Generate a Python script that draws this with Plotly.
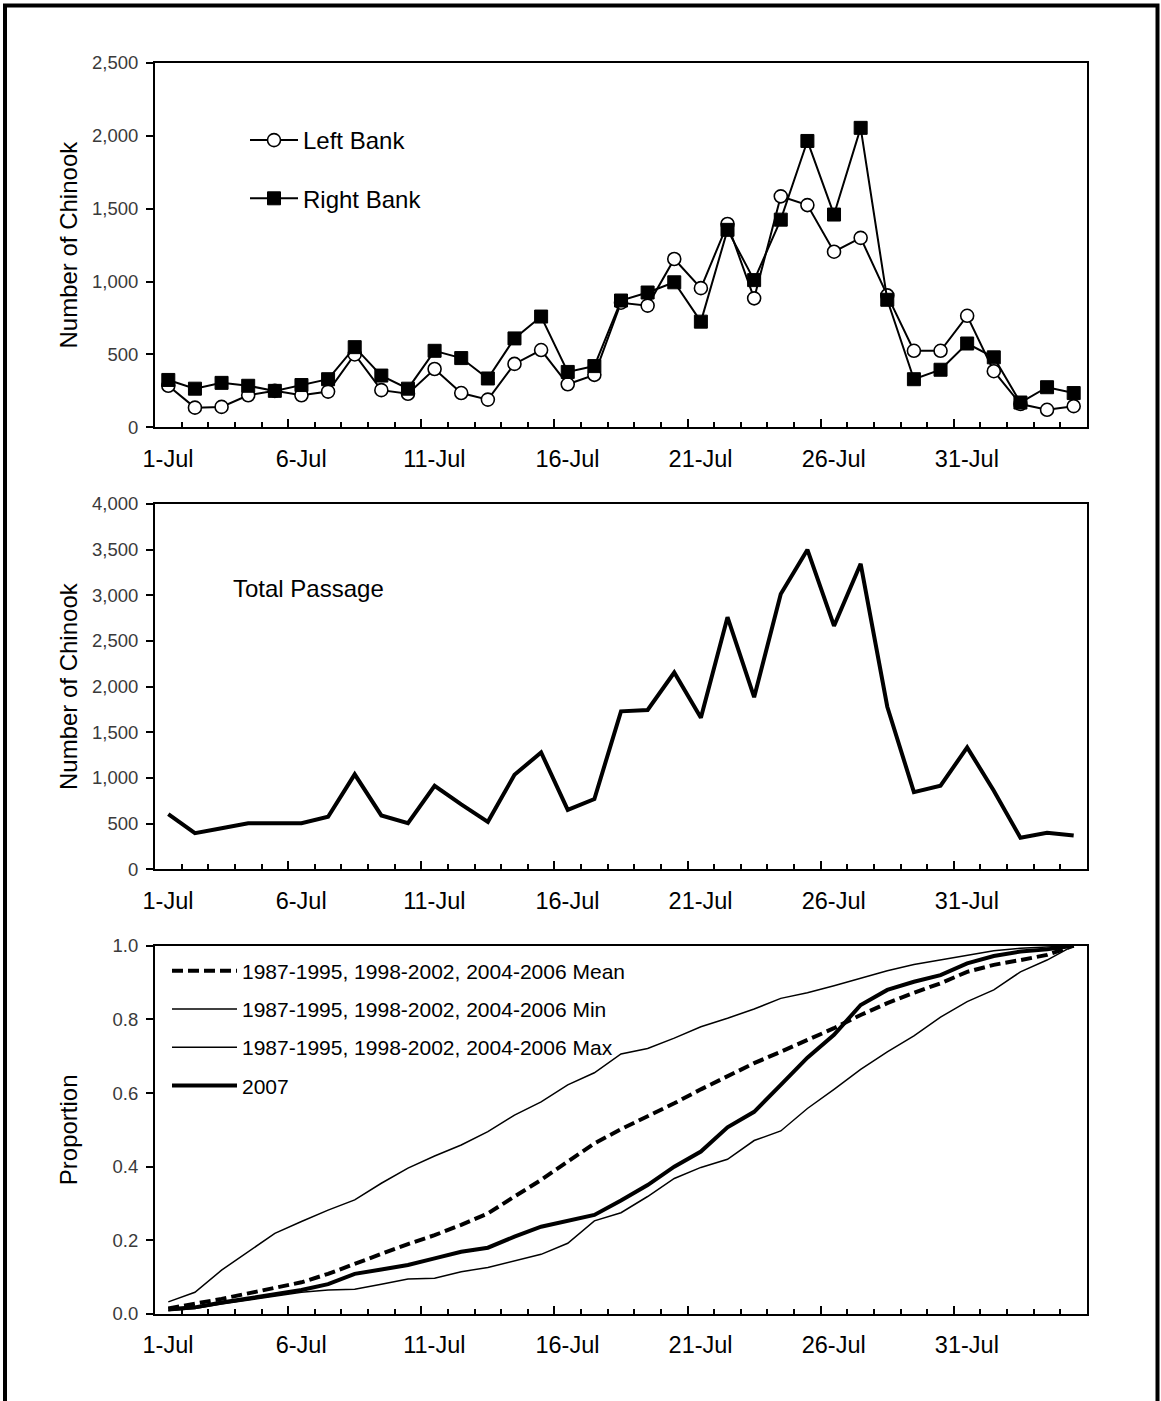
import plotly.graph_objects as go

# ---------------- data ----------------
days = list(range(1, 36))  # 1-Jul .. 4-Aug
tick_days = [0.5, 5.5, 10.5, 15.5, 20.5, 25.5, 30.5, 35.5]
tick_labels = ["1-Jul", "6-Jul", "11-Jul", "16-Jul", "21-Jul", "26-Jul", "31-Jul", ""]

left_bank = [285, 135, 140, 220, 250, 220, 245, 500, 255, 230, 400, 235, 190, 435, 530,
             295, 360, 855, 835, 1155, 955, 1395, 885, 1585, 1525, 1205, 1300, 905, 525,
             525, 765, 385, 160, 120, 145]
right_bank = [325, 265, 305, 285, 250, 290, 330, 550, 355, 265, 525, 475, 335, 610, 760,
              380, 420, 870, 925, 995, 725, 1355, 1010, 1425, 1965, 1460, 2055, 875, 330,
              395, 575, 480, 170, 275, 235]
total_passage = [605, 395, 450, 505, 505, 505, 575, 1040, 590, 505, 915, 710, 520, 1035, 1280,
                 650, 770, 1730, 1745, 2155, 1660, 2760, 1885, 3015, 3500, 2665, 3345, 1780, 845,
                 915, 1335, 860, 345, 400, 370]

hist_mean = [0.015, 0.027, 0.041, 0.056, 0.070, 0.086, 0.109, 0.135, 0.163, 0.190, 0.214, 0.242,
             0.273, 0.319, 0.364, 0.414, 0.463, 0.502, 0.536, 0.572, 0.610, 0.644, 0.681, 0.712,
             0.744, 0.776, 0.812, 0.844, 0.872, 0.898, 0.929, 0.948, 0.961, 0.975, 1.0]
hist_min = [0.009, 0.015, 0.027, 0.038, 0.047, 0.059, 0.065, 0.067, 0.081, 0.095, 0.097, 0.115,
            0.126, 0.145, 0.162, 0.192, 0.253, 0.275, 0.319, 0.368, 0.398, 0.420, 0.471, 0.497,
            0.558, 0.610, 0.664, 0.712, 0.755, 0.806, 0.848, 0.880, 0.929, 0.961, 1.0]
hist_max = [0.033, 0.059, 0.119, 0.169, 0.219, 0.251, 0.282, 0.310, 0.355, 0.396, 0.429, 0.459,
            0.495, 0.540, 0.576, 0.622, 0.655, 0.706, 0.721, 0.749, 0.780, 0.803, 0.828, 0.857,
            0.872, 0.891, 0.911, 0.932, 0.949, 0.961, 0.975, 0.986, 0.993, 0.997, 1.0]
prop_2007 = [0.013, 0.018, 0.031, 0.043, 0.053, 0.065, 0.081, 0.109, 0.121, 0.133, 0.151, 0.169,
             0.180, 0.210, 0.237, 0.253, 0.269, 0.308, 0.350, 0.400, 0.441, 0.507, 0.549, 0.622,
             0.696, 0.758, 0.839, 0.880, 0.902, 0.920, 0.952, 0.972, 0.984, 0.990, 1.0]

hist_label = "1987-1995, 1998-2002, 2004-2006"

# ---------------- figure ----------------
FONT = "Liberation Sans, Arial, sans-serif"
W, H = 1161, 1401
ML, MR, MT, MB = 155, 74, 63, 87
PW = W - ML - MR
PH = H - MT - MB
day_px = PW / 35.0

fig = go.Figure()

fig.add_trace(go.Scatter(
    x=days, y=left_bank, name="Left Bank", mode="lines+markers", legendgroup="l",
    line=dict(color="black", width=2),
    marker=dict(symbol="circle", size=13, color="white", line=dict(color="black", width=1.6)),
    xaxis="x", yaxis="y", legend="legend"))
fig.add_trace(go.Scatter(
    x=days, y=right_bank, name="Right Bank", mode="lines+markers", legendgroup="r",
    line=dict(color="black", width=2),
    marker=dict(symbol="square", size=13, color="black", line=dict(color="black", width=1)),
    xaxis="x", yaxis="y", legend="legend"))

fig.add_trace(go.Scatter(
    x=days, y=total_passage, name="Total Passage", mode="lines", showlegend=False,
    line=dict(color="black", width=4), xaxis="x2", yaxis="y2"))

fig.add_trace(go.Scatter(
    x=days, y=hist_mean, name=hist_label + " Mean", mode="lines", legendgroup="m",
    line=dict(color="black", width=4, dash="11px,5px"), xaxis="x3", yaxis="y3", legend="legend2"))
fig.add_trace(go.Scatter(
    x=days, y=hist_min, name=hist_label + " Min", mode="lines", legendgroup="n",
    line=dict(color="black", width=1.5), xaxis="x3", yaxis="y3", legend="legend2"))
fig.add_trace(go.Scatter(
    x=days, y=hist_max, name=hist_label + " Max", mode="lines", legendgroup="x",
    line=dict(color="black", width=1.5), xaxis="x3", yaxis="y3", legend="legend2"))
fig.add_trace(go.Scatter(
    x=days, y=prop_2007, name="2007", mode="lines", legendgroup="y",
    line=dict(color="black", width=4), xaxis="x3", yaxis="y3", legend="legend2"))


def ypaper(py):
    return (H - MB - py) / PH


def xpaper(px):
    return (px - ML) / PW


def xaxis_common(anchor):
    return dict(
        anchor=anchor, domain=[0, 1], range=[0.5, 35.5],
        tickmode="array", tickvals=tick_days, ticktext=tick_labels,
        ticks="inside", ticklen=8, tickwidth=1.5, tickcolor="black",
        ticklabelshift=int(round(day_px / 2)), ticklabelstandoff=9,
        minor=dict(tickmode="array", tickvals=[d + 0.5 for d in range(0, 36)],
                   ticks="inside", ticklen=5, tickwidth=1.5, tickcolor="black"),
        showline=True, mirror=True, linecolor="black", linewidth=2,
        showgrid=False, zeroline=False,
        tickfont=dict(family=FONT, size=23.5, color="black"),
    )


def yaxis_common(anchor, domain, rng, dtick, fmt, title, standoff):
    return dict(
        anchor=anchor, domain=domain, range=rng, dtick=dtick, tick0=0, tickformat=fmt,
        ticks="outside", ticklen=7, tickwidth=1.5, tickcolor="black",
        ticklabelstandoff=4,
        showline=True, mirror=True, linecolor="black", linewidth=2,
        showgrid=False, zeroline=False,
        tickfont=dict(family=FONT, size=18.5, color="#3a3a3a"),
        title=dict(text=title, font=dict(family=FONT, size=24, color="black"), standoff=standoff),
    )


fig.update_layout(
    width=W, height=H,
    margin=dict(l=ML, r=MR, t=MT, b=MB, autoexpand=False),
    paper_bgcolor="white", plot_bgcolor="white",
    font=dict(family=FONT, color="black"),
    xaxis=xaxis_common("y"),
    xaxis2=xaxis_common("y2"),
    xaxis3=xaxis_common("y3"),
    yaxis=yaxis_common("x", [ypaper(427.3), 1.0], [0, 2500], 500, ",", "Number of Chinook", 8),
    yaxis2=yaxis_common("x2", [ypaper(869.3), ypaper(504)], [0, 4000], 500, ",", "Number of Chinook", 8),
    yaxis3=yaxis_common("x3", [0, ypaper(945.7)], [0, 1.0], 0.2, ".1f", "Proportion", 28),
    legend=dict(x=xpaper(245), y=ypaper(118), xanchor="left", yanchor="top",
                font=dict(family=FONT, size=24, color="black"),
                bgcolor="rgba(0,0,0,0)", borderwidth=0, itemwidth=48,
                tracegroupgap=24, itemclick=False),
    legend2=dict(x=xpaper(167), y=ypaper(950.5), xanchor="left", yanchor="top",
                 font=dict(family=FONT, size=21, color="black"),
                 bgcolor="rgba(0,0,0,0)", borderwidth=0, itemwidth=65,
                 tracegroupgap=8, itemclick=False),
    annotations=[dict(text="Total Passage", xref="paper", yref="paper",
                      x=xpaper(231), y=ypaper(588), xanchor="left", yanchor="middle",
                      showarrow=False, font=dict(family=FONT, size=24, color="black"))],
    shapes=[dict(type="rect", xref="paper", yref="paper",
                 x0=xpaper(5), x1=xpaper(1157.5), y0=ypaper(1420), y1=ypaper(5.5),
                 line=dict(color="black", width=4), fillcolor="rgba(0,0,0,0)", layer="below")],
)

fig.write_html("out.html")
